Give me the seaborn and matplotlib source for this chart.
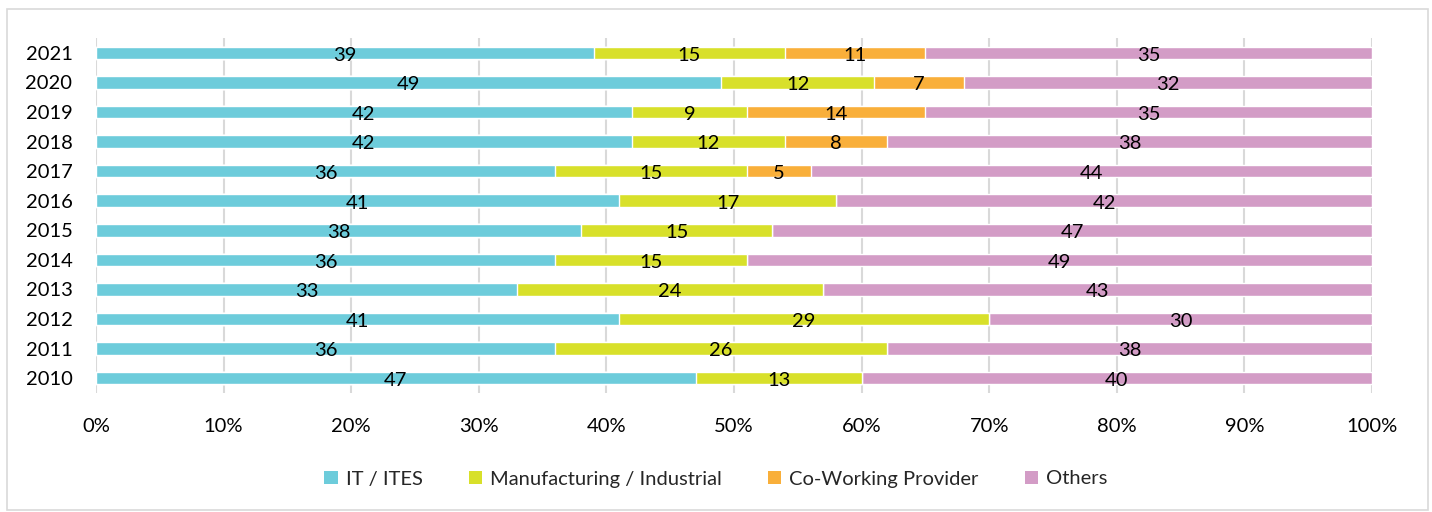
import numpy as np
import pandas as pd
import matplotlib
matplotlib.use("Agg")
import matplotlib.pyplot as plt
from matplotlib.patches import Rectangle, Patch
import seaborn as sns

years = ["2021", "2020", "2019", "2018", "2017", "2016",
         "2015", "2014", "2013", "2012", "2011", "2010"]
it_ites = [39, 49, 42, 42, 36, 41, 38, 36, 33, 41, 36, 47]
manufacturing = [15, 12, 9, 12, 15, 17, 15, 15, 24, 29, 26, 13]
coworking = [11, 7, 14, 8, 5, 0, 0, 0, 0, 0, 0, 0]
others = [35, 32, 35, 38, 44, 42, 47, 49, 43, 30, 38, 40]

series_names = ["IT / ITES", "Manufacturing / Industrial", "Co-Working Provider", "Others"]
series_values = [it_ites, manufacturing, coworking, others]
colors = ["#6DCCDB", "#D8E02A", "#F9AF3A", "#D39CC6"]

sns.set_theme(style="white")
plt.rcParams["font.family"] = ["Lato", "DejaVu Sans"]
FS = 14.5

fig = plt.figure(figsize=(14.32, 5.12), dpi=100)
ax = fig.add_axes([96 / 1432, 1 - 393 / 512, (1372 - 96) / 1432, (393 - 38) / 512])

df = pd.DataFrame({"year": years})
for name, vals in zip(series_names, series_values):
    df[name] = vals
cum = df[series_names].cumsum(axis=1)

# Stacked bars: draw cumulative totals from the outermost segment inward
for name, color in reversed(list(zip(series_names, colors))):
    sns.barplot(data=cum.assign(year=years), x=name, y="year", order=years,
                orient="h", color=color, width=0.42, saturation=1,
                ax=ax, zorder=2)

# Value labels centred on each segment
starts = cum[series_names].shift(1, axis=1).fillna(0)
for i, year in enumerate(years):
    for name in series_names:
        v = df.loc[i, name]
        if v == 0:
            continue
        xc = starts.loc[i, name] + v / 2
        ax.text(xc, i + 0.08, f"{v}", ha="center", va="center",
                fontsize=FS, color="black", zorder=3)

ax.set_xlim(0, 100)
ax.set_ylim(len(years) - 0.5, -0.5)
ax.set_xticks(np.arange(0, 101, 10))
ax.set_xticklabels([f"{t}%" for t in range(0, 101, 10)])
ax.xaxis.grid(True, color="#D9D9D9", linewidth=1.5, zorder=0)
ax.set_axisbelow(True)
ax.tick_params(axis="both", labelsize=FS, length=0, colors="black")
ax.tick_params(axis="x", pad=18)
ax.tick_params(axis="y", pad=17)
ax.set_xlabel("")
ax.set_ylabel("")
for s in ax.spines.values():
    s.set_visible(False)

handles = [Patch(facecolor=c, edgecolor="none") for c in colors]
fig.legend(handles, series_names, loc="center", bbox_to_anchor=(0.5, 1 - 479 / 512),
           ncol=4, frameon=False, fontsize=FS, handlelength=0.65, handleheight=0.65,
           handletextpad=0.4, columnspacing=2.3)

fig.patches.append(Rectangle((7 / 1432, 2 / 512), 1421 / 1432, 501 / 512,
                             transform=fig.transFigure, fill=False,
                             edgecolor="#D9D9D9", linewidth=1.2))

fig.savefig("out.png", dpi=100, facecolor="white")
